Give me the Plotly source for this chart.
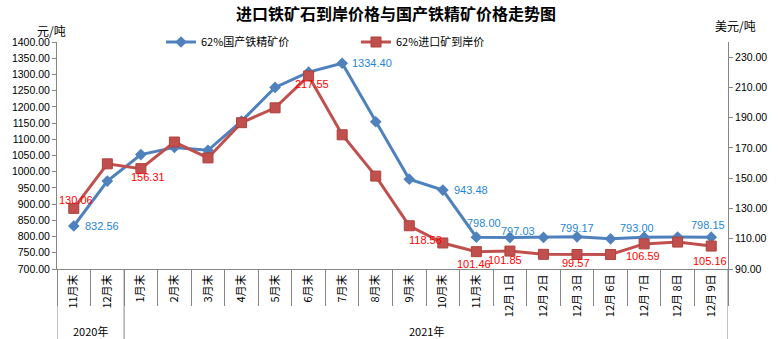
import plotly.graph_objects as go

# ---------------- data ----------------
categories = ["11月末", "12月末",
              "1月末", "2月末", "3月末", "4月末", "5月末", "6月末", "7月末", "8月末",
              "9月末", "10月末", "11月末",
              "12月 1日", "12月 2日", "12月 3日", "12月 6日", "12月 7日", "12月 8日", "12月 9日"]
years = ["2020年", "2021年"]
year_counts = [2, 18]

domestic = [832.56, 971, 1053, 1075, 1066, 1156, 1260, 1307, 1334.40, 1154,
            977, 943.48, 798.00, 797.03, 797.5, 799.17, 793.00, 798.2, 798.3, 798.15]
imported = [130.06, 159.5, 156.31, 173.9, 163.4, 186.7, 196.5, 217.55, 178.7, 151.4,
            118.58, 107.2, 101.46, 101.85, 99.7, 99.57, 99.6, 106.59, 107.8, 105.16]

domestic_name = "62%国产铁精矿价"
imported_name = "62%进口矿到岸价"

# labelled points and label offsets (px)
dom_label_idx = [0, 8, 11, 12, 13, 15, 16, 19]
dom_label_shift = [(28, 0), (30, 0), (28, 0), (8, 14), (8, 7), (0, 9), (26, 11), (-3, 12)]
imp_label_idx = [0, 2, 7, 10, 12, 13, 15, 17, 19]
imp_label_shift = [(2, 8), (7, -8), (3, -8), (16, -14), (-2, -12), (-5, -9), (-1, -8), (-1, -12), (-1, -15)]

BLUE = "#4F81BD"
RED = "#C0504D"
BLUE_TXT = "#1F86D6"
RED_TXT = "#FF0000"
AXIS = "#868686"
NUM_FONT = "Liberation Sans, Arial, sans-serif"
CJK_FONT = "Noto Sans CJK SC, sans-serif"

x = list(range(len(categories)))

fig = go.Figure()
fig.add_trace(go.Scatter(
    x=x, y=domestic, name=domestic_name, mode="lines+markers",
    line=dict(color=BLUE, width=3),
    marker=dict(symbol="diamond", size=9, color=BLUE),
    yaxis="y"))
fig.add_trace(go.Scatter(
    x=x, y=imported, name=imported_name, mode="lines+markers",
    line=dict(color=RED, width=3),
    marker=dict(symbol="square", size=10, color=RED, line=dict(color="#B0403D", width=1)),
    yaxis="y2"))

annotations = []
for i, (dx, dy) in zip(dom_label_idx, dom_label_shift):
    annotations.append(dict(x=x[i], y=domestic[i], xref="x", yref="y",
                            text=f"{domestic[i]:.2f}", showarrow=False,
                            xshift=dx, yshift=dy,
                            font=dict(family=NUM_FONT, size=11, color=BLUE_TXT)))
for i, (dx, dy) in zip(imp_label_idx, imp_label_shift):
    annotations.append(dict(x=x[i], y=imported[i], xref="x", yref="y2",
                            text=f"{imported[i]:.2f}", showarrow=False,
                            xshift=dx, yshift=dy,
                            font=dict(family=NUM_FONT, size=11, color=RED_TXT)))

# year group labels + dividers
shapes = []
plot_h = 227.0
plot_w = 684.0
start = 0
bounds = [-0.5]
for yr, cnt in zip(years, year_counts):
    center = start + (cnt - 1) / 2
    annotations.append(dict(x=center, y=-62 / plot_h, xref="x", yref="paper",
                            text=yr, showarrow=False, xanchor="center", yanchor="middle",
                            font=dict(family=CJK_FONT, size=11, color="#000000")))
    start += cnt
    bounds.append(start - 0.5)
for b in bounds:
    shapes.append(dict(type="line", xref="x", yref="paper", x0=b, x1=b,
                       y0=0, y1=-70 / plot_h, line=dict(color=AXIS, width=1)))

# axis unit labels
annotations.append(dict(xref="paper", yref="paper", x=(42 - 48) / plot_w, y=1 + (42 - 30.5) / plot_h,
                        xanchor="center", yanchor="middle", text="元/吨", showarrow=False,
                        font=dict(family=CJK_FONT, size=12, color="#000")))
annotations.append(dict(xref="paper", yref="paper", x=(740 - 48) / plot_w, y=1 + (42 - 26) / plot_h,
                        xanchor="center", yanchor="middle", text="美元/吨", showarrow=False,
                        font=dict(family=CJK_FONT, size=12, color="#000")))

fig.update_layout(
    width=779, height=339,
    margin=dict(l=48, r=47, t=42, b=70),
    paper_bgcolor="white", plot_bgcolor="white",
    title=dict(text="<b>进口铁矿石到岸价格与国产铁精矿价格走势图</b>",
               x=396 / 779, xanchor="center", y=1 - 14 / 339, yanchor="middle",
               font=dict(family=CJK_FONT, size=16, color="#000")),
    showlegend=True,
    legend=dict(orientation="h", x=0.155, xanchor="left", y=1.0, yanchor="middle",
                bgcolor="rgba(0,0,0,0)", entrywidth=150, itemwidth=30,
                font=dict(family=CJK_FONT, size=11, color="#000")),
    xaxis=dict(range=[-0.5, len(categories) - 0.5], tickmode="array", tickvals=x,
               ticktext=categories, tickangle=-90, ticks="",
               showline=True, linecolor=AXIS, linewidth=1, showgrid=False, zeroline=False,
               tickfont=dict(family=CJK_FONT, size=11, color="#000"),
               minor=dict(tickmode="array", tickvals=[i - 0.5 for i in range(len(categories) + 1)],
                          ticks="outside", ticklen=36, tickcolor=AXIS, showgrid=False)),
    yaxis=dict(range=[700, 1400], dtick=50, tick0=700, tickformat=".2f",
               showline=True, linecolor=AXIS, linewidth=1, showgrid=False, zeroline=False,
               ticks="outside", ticklen=4, tickcolor=AXIS,
               tickfont=dict(family=NUM_FONT, size=10.5, color="#000")),
    yaxis2=dict(range=[90, 240], tickmode="array", tickvals=list(range(90, 231, 20)),
                tickformat=".2f", overlaying="y", side="right",
                showline=True, linecolor=AXIS, linewidth=1, showgrid=False, zeroline=False,
                ticks="outside", ticklen=4, tickcolor=AXIS,
                tickfont=dict(family=NUM_FONT, size=10.5, color="#000")),
    annotations=annotations,
    shapes=shapes,
)

fig.write_html("out.html")
